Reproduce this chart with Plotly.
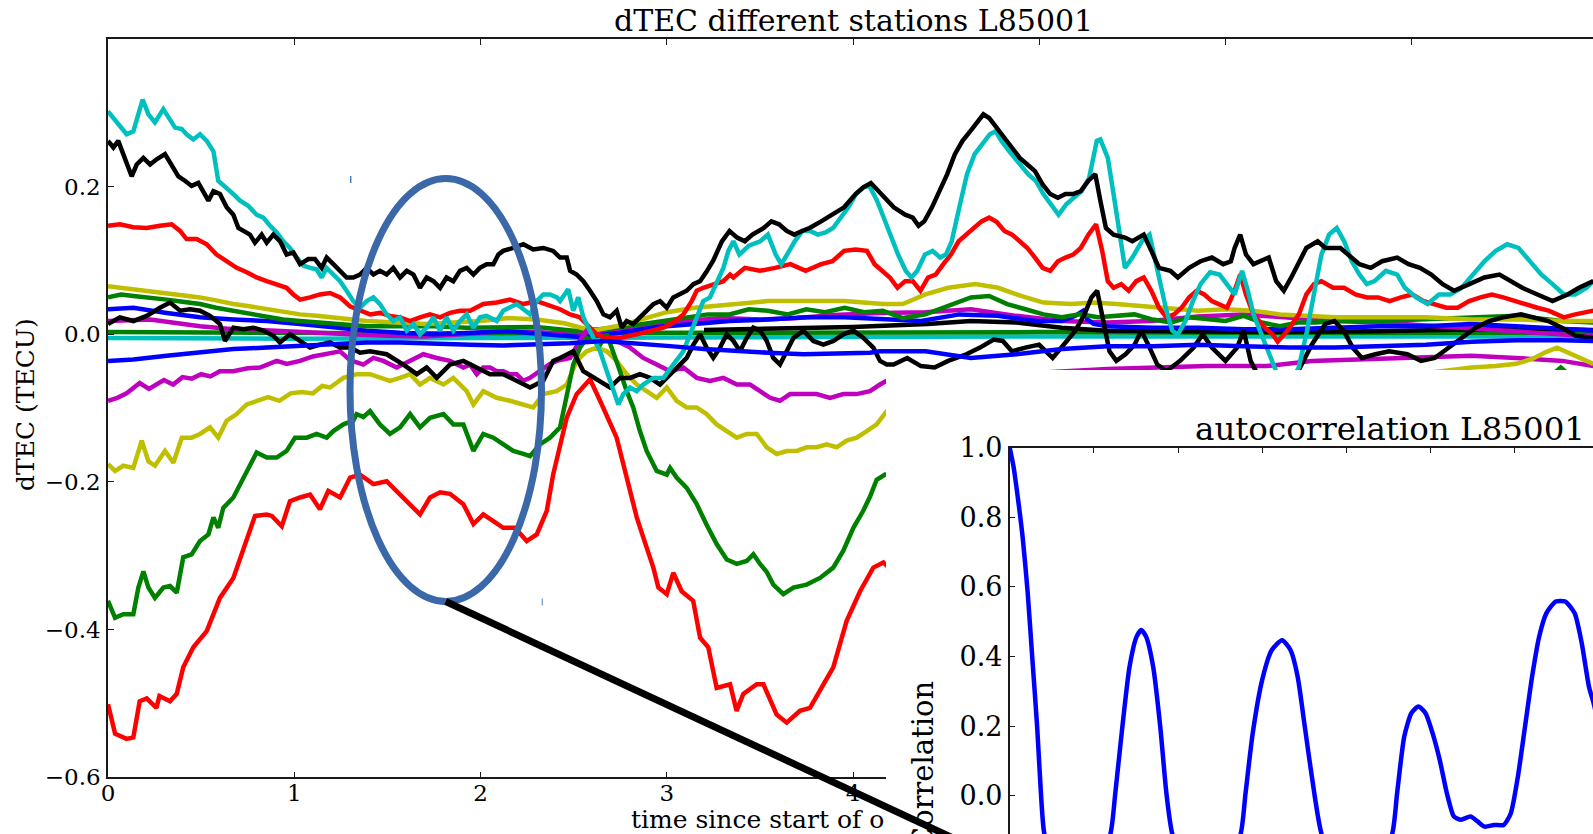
import plotly.graph_objects as go

# ---------------- data ----------------
TITLE_MAIN = "dTEC different stations L85001"
TITLE_INSET = "autocorrelation L85001"
XLABEL_VISIBLE = "time since start of o"
YLABEL_MAIN = "dTEC (TECU)"
YLABEL_INSET = "Correlation"

MAIN_XTICKS = [0, 1, 2, 3, 4, 5, 6, 7]
MAIN_YTICKS = [-0.6, -0.4, -0.2, 0.0, 0.2]
INSET_XTICKS = [0, 1, 2, 3, 4, 5, 6]
INSET_YTICKS = [0.0, 0.2, 0.4, 0.6, 0.8, 1.0]

CYAN_TOP = [
    (0.000, 0.302), (0.038, 0.291), (0.100, 0.271), (0.136, 0.275), (0.186, 0.318), (0.217, 0.298),
    (0.252, 0.287), (0.297, 0.305), (0.333, 0.291), (0.360, 0.280), (0.396, 0.278), (0.422, 0.271),
    (0.458, 0.264), (0.494, 0.271), (0.530, 0.262), (0.566, 0.248), (0.592, 0.208), (0.637, 0.199),
    (0.673, 0.190), (0.709, 0.181), (0.753, 0.174), (0.798, 0.162), (0.834, 0.158), (0.870, 0.147),
    (0.906, 0.138), (0.941, 0.126), (0.977, 0.117), (1.013, 0.104), (1.049, 0.093), (1.085, 0.090),
    (1.120, 0.088), (1.147, 0.077), (1.174, 0.090), (1.210, 0.081), (1.246, 0.072), (1.281, 0.059),
    (1.317, 0.045), (1.353, 0.036), (1.389, 0.045), (1.425, 0.050), (1.460, 0.041), (1.496, 0.027),
    (1.532, 0.018), (1.568, 0.023), (1.604, 0.005), (1.640, 0.014), (1.675, 0.000), (1.711, 0.009),
    (1.747, 0.023), (1.783, 0.005), (1.818, 0.023), (1.854, 0.005), (1.890, 0.018), (1.926, 0.027),
    (1.962, 0.009), (1.997, 0.023), (2.033, 0.025), (2.087, 0.018), (2.122, 0.032), (2.194, 0.041),
    (2.266, 0.027), (2.302, 0.045), (2.337, 0.054), (2.373, 0.054), (2.410, 0.050), (2.427, 0.045),
    (2.471, 0.061), (2.498, 0.032), (2.525, 0.050), (2.552, 0.023), (2.606, -0.005), (2.642, -0.023),
    (2.678, -0.050), (2.713, -0.077), (2.740, -0.095), (2.767, -0.081), (2.803, -0.072), (2.839, -0.077),
    (2.874, -0.068), (2.928, -0.059), (2.982, -0.059), (3.035, -0.041), (3.089, -0.023), (3.125, 0.000),
    (3.161, 0.023), (3.196, 0.045), (3.232, 0.050), (3.277, 0.077), (3.304, 0.090), (3.331, 0.113),
    (3.358, 0.126), (3.390, 0.108), (3.441, 0.120), (3.502, 0.126), (3.543, 0.135), (3.585, 0.108),
    (3.615, 0.095), (3.646, 0.108), (3.687, 0.126), (3.728, 0.140), (3.769, 0.140), (3.811, 0.135),
    (3.852, 0.138), (3.893, 0.144), (3.934, 0.158), (3.975, 0.172), (4.016, 0.190), (4.057, 0.199),
    (4.088, 0.201), (4.129, 0.181), (4.159, 0.162), (4.200, 0.135), (4.242, 0.108), (4.283, 0.086),
    (4.314, 0.077), (4.345, 0.086), (4.386, 0.108), (4.427, 0.113), (4.468, 0.104), (4.499, 0.108),
    (4.530, 0.126), (4.571, 0.172), (4.612, 0.217), (4.653, 0.244), (4.694, 0.257), (4.735, 0.271),
    (4.766, 0.275), (4.797, 0.262), (4.838, 0.248), (4.879, 0.235), (4.940, 0.217), (4.981, 0.208),
    (5.022, 0.190), (5.063, 0.176), (5.104, 0.162), (5.145, 0.176), (5.186, 0.185), (5.227, 0.194),
    (5.268, 0.212), (5.309, 0.262), (5.328, 0.264), (5.368, 0.239), (5.399, 0.190), (5.430, 0.135),
    (5.460, 0.090), (5.500, 0.104), (5.551, 0.126), (5.592, 0.135), (5.622, 0.099), (5.653, 0.063),
    (5.683, 0.032), (5.714, 0.005), (5.744, 0.000), (5.785, 0.018), (5.825, 0.045), (5.866, 0.068),
    (5.917, 0.084), (5.968, 0.081), (6.008, 0.068), (6.049, 0.054), (6.089, 0.086), (6.120, 0.059),
    (6.150, 0.027), (6.191, 0.000), (6.232, -0.027), (6.272, -0.050), (6.330, -0.075), (6.393, -0.045),
    (6.434, 0.000), (6.475, 0.054), (6.515, 0.108), (6.556, 0.135), (6.597, 0.144), (6.637, 0.126),
    (6.678, 0.099), (6.719, 0.081), (6.759, 0.068), (6.800, 0.072), (6.861, 0.086), (6.922, 0.081),
    (6.963, 0.063), (7.024, 0.050), (7.085, 0.041), (7.146, 0.054), (7.207, 0.054), (7.268, 0.063),
    (7.329, 0.081), (7.390, 0.099), (7.451, 0.113), (7.512, 0.122), (7.573, 0.117), (7.634, 0.099),
    (7.695, 0.081), (7.756, 0.068), (7.817, 0.054), (7.878, 0.054), (7.939, 0.063), (7.975, 0.072),
]

BLACK_TOP = [
    (0.000, 0.262), (0.029, 0.253), (0.055, 0.262), (0.091, 0.239), (0.127, 0.214), (0.154, 0.230),
    (0.190, 0.239), (0.226, 0.230), (0.261, 0.237), (0.306, 0.244), (0.342, 0.230), (0.378, 0.214),
    (0.413, 0.208), (0.449, 0.201), (0.485, 0.205), (0.512, 0.194), (0.539, 0.181), (0.566, 0.194),
    (0.601, 0.190), (0.637, 0.172), (0.673, 0.162), (0.700, 0.144), (0.727, 0.140), (0.762, 0.135),
    (0.789, 0.124), (0.825, 0.135), (0.852, 0.124), (0.888, 0.135), (0.924, 0.126), (0.959, 0.108),
    (0.995, 0.111), (1.031, 0.095), (1.076, 0.102), (1.111, 0.102), (1.147, 0.090), (1.174, 0.104),
    (1.210, 0.095), (1.246, 0.086), (1.281, 0.077), (1.317, 0.077), (1.353, 0.081), (1.389, 0.090),
    (1.425, 0.081), (1.460, 0.086), (1.496, 0.081), (1.532, 0.090), (1.568, 0.077), (1.604, 0.086),
    (1.640, 0.081), (1.675, 0.063), (1.711, 0.077), (1.747, 0.072), (1.783, 0.063), (1.818, 0.077),
    (1.854, 0.072), (1.890, 0.086), (1.926, 0.090), (1.962, 0.081), (1.997, 0.090), (2.033, 0.095),
    (2.069, 0.095), (2.096, 0.108), (2.122, 0.113), (2.176, 0.117), (2.230, 0.122), (2.283, 0.115),
    (2.337, 0.117), (2.390, 0.113), (2.427, 0.104), (2.463, 0.104), (2.481, 0.086), (2.516, 0.081),
    (2.552, 0.072), (2.588, 0.059), (2.624, 0.045), (2.660, 0.027), (2.695, 0.023), (2.731, 0.032),
    (2.758, 0.009), (2.785, 0.018), (2.820, 0.014), (2.856, 0.023), (2.892, 0.032), (2.928, 0.041),
    (2.964, 0.045), (3.000, 0.036), (3.035, 0.050), (3.071, 0.054), (3.107, 0.059), (3.143, 0.068),
    (3.179, 0.072), (3.214, 0.085), (3.250, 0.100), (3.296, 0.126), (3.337, 0.140), (3.378, 0.131),
    (3.419, 0.126), (3.460, 0.135), (3.521, 0.144), (3.562, 0.153), (3.603, 0.149), (3.644, 0.140),
    (3.685, 0.135), (3.726, 0.140), (3.767, 0.144), (3.829, 0.153), (3.890, 0.162), (3.952, 0.172),
    (4.014, 0.190), (4.055, 0.199), (4.096, 0.205), (4.137, 0.194), (4.178, 0.181), (4.219, 0.172),
    (4.280, 0.162), (4.321, 0.158), (4.352, 0.147), (4.383, 0.153), (4.424, 0.172), (4.465, 0.194),
    (4.506, 0.217), (4.547, 0.244), (4.588, 0.262), (4.629, 0.275), (4.670, 0.289), (4.700, 0.298),
    (4.731, 0.293), (4.772, 0.280), (4.813, 0.266), (4.854, 0.253), (4.895, 0.239), (4.936, 0.230),
    (4.977, 0.221), (5.018, 0.203), (5.059, 0.190), (5.100, 0.185), (5.141, 0.190), (5.182, 0.190),
    (5.223, 0.194), (5.264, 0.208), (5.301, 0.217), (5.328, 0.181), (5.358, 0.144), (5.399, 0.135),
    (5.460, 0.131), (5.500, 0.126), (5.561, 0.135), (5.602, 0.113), (5.643, 0.090), (5.704, 0.086),
    (5.744, 0.077), (5.805, 0.090), (5.866, 0.099), (5.927, 0.104), (5.988, 0.095), (6.029, 0.099),
    (6.049, 0.117), (6.079, 0.135), (6.110, 0.108), (6.150, 0.095), (6.191, 0.099), (6.232, 0.104),
    (6.272, 0.072), (6.313, 0.059), (6.353, 0.077), (6.394, 0.099), (6.434, 0.117), (6.495, 0.126),
    (6.536, 0.117), (6.577, 0.117), (6.617, 0.117), (6.658, 0.108), (6.719, 0.095), (6.780, 0.090),
    (6.841, 0.099), (6.922, 0.104), (6.983, 0.095), (7.044, 0.090), (7.105, 0.081), (7.166, 0.068),
    (7.227, 0.059), (7.309, 0.068), (7.390, 0.077), (7.471, 0.081), (7.532, 0.072), (7.593, 0.063),
    (7.675, 0.054), (7.756, 0.045), (7.837, 0.054), (7.898, 0.063), (7.975, 0.072),
]

RED_TOP = [
    (0.000, 0.147), (0.064, 0.149), (0.136, 0.145), (0.208, 0.144), (0.279, 0.147), (0.342, 0.149),
    (0.387, 0.140), (0.422, 0.129), (0.476, 0.129), (0.530, 0.122), (0.583, 0.108), (0.637, 0.099),
    (0.691, 0.090), (0.745, 0.084), (0.798, 0.077), (0.852, 0.072), (0.906, 0.068), (0.959, 0.063),
    (0.995, 0.054), (1.031, 0.047), (1.085, 0.050), (1.138, 0.054), (1.192, 0.056), (1.246, 0.050),
    (1.299, 0.038), (1.353, 0.032), (1.407, 0.027), (1.460, 0.029), (1.514, 0.025), (1.568, 0.023),
    (1.622, 0.018), (1.675, 0.023), (1.729, 0.027), (1.783, 0.023), (1.836, 0.029), (1.890, 0.032),
    (1.944, 0.032), (2.015, 0.041), (2.087, 0.043), (2.158, 0.047), (2.230, 0.041), (2.302, 0.045),
    (2.373, 0.038), (2.427, 0.034), (2.481, 0.027), (2.534, 0.023), (2.588, 0.009), (2.624, 0.000),
    (2.660, -0.004), (2.749, -0.005), (2.839, 0.000), (2.910, 0.005), (2.982, 0.009), (3.035, 0.016),
    (3.089, 0.027), (3.134, 0.045), (3.161, 0.059), (3.196, 0.063), (3.250, 0.068), (3.304, 0.072),
    (3.340, 0.081), (3.358, 0.077), (3.419, 0.090), (3.500, 0.086), (3.582, 0.090), (3.664, 0.095),
    (3.746, 0.086), (3.829, 0.095), (3.890, 0.099), (3.952, 0.113), (4.014, 0.115), (4.075, 0.113),
    (4.116, 0.095), (4.157, 0.086), (4.198, 0.077), (4.239, 0.063), (4.280, 0.072), (4.321, 0.072),
    (4.362, 0.059), (4.403, 0.077), (4.444, 0.081), (4.485, 0.095), (4.526, 0.108), (4.567, 0.126),
    (4.608, 0.135), (4.649, 0.144), (4.690, 0.153), (4.731, 0.158), (4.772, 0.152), (4.813, 0.140),
    (4.854, 0.135), (4.895, 0.126), (4.936, 0.117), (4.977, 0.104), (5.018, 0.090), (5.059, 0.086),
    (5.100, 0.099), (5.141, 0.104), (5.182, 0.108), (5.223, 0.117), (5.264, 0.135), (5.305, 0.149),
    (5.338, 0.113), (5.368, 0.072), (5.399, 0.063), (5.440, 0.068), (5.480, 0.059), (5.521, 0.072),
    (5.561, 0.077), (5.602, 0.059), (5.643, 0.036), (5.683, 0.023), (5.724, 0.027), (5.764, 0.036),
    (5.805, 0.050), (5.846, 0.059), (5.886, 0.054), (5.927, 0.045), (5.968, 0.041), (6.008, 0.036),
    (6.049, 0.059), (6.079, 0.081), (6.110, 0.054), (6.150, 0.027), (6.211, 0.009), (6.252, 0.000),
    (6.280, -0.010), (6.333, 0.005), (6.394, 0.027), (6.434, 0.054), (6.475, 0.068), (6.515, 0.072),
    (6.577, 0.063), (6.637, 0.063), (6.698, 0.054), (6.759, 0.050), (6.820, 0.050), (6.881, 0.045),
    (6.942, 0.050), (7.003, 0.054), (7.064, 0.045), (7.125, 0.041), (7.186, 0.036), (7.247, 0.036),
    (7.308, 0.045), (7.369, 0.050), (7.430, 0.054), (7.491, 0.050), (7.552, 0.045), (7.613, 0.041),
    (7.674, 0.036), (7.735, 0.032), (7.816, 0.023), (7.878, 0.027), (7.975, 0.032),
]

RED_BOTTOM = [
    (0.000, -0.501), (0.038, -0.541), (0.100, -0.548), (0.136, -0.546), (0.170, -0.497), (0.208, -0.493),
    (0.260, -0.506), (0.276, -0.490), (0.333, -0.497), (0.369, -0.487), (0.404, -0.451), (0.458, -0.424),
    (0.530, -0.402), (0.601, -0.357), (0.673, -0.330), (0.745, -0.280), (0.789, -0.246), (0.852, -0.244),
    (0.880, -0.246), (0.933, -0.260), (0.977, -0.226), (1.031, -0.221), (1.085, -0.217), (1.138, -0.237),
    (1.183, -0.212), (1.246, -0.221), (1.300, -0.194), (1.353, -0.190), (1.425, -0.203), (1.496, -0.199),
    (1.550, -0.212), (1.604, -0.226), (1.675, -0.244), (1.729, -0.221), (1.783, -0.214), (1.836, -0.216),
    (1.908, -0.230), (1.962, -0.257), (2.015, -0.244), (2.069, -0.253), (2.122, -0.262), (2.185, -0.262),
    (2.248, -0.280), (2.302, -0.271), (2.356, -0.239), (2.390, -0.190), (2.430, -0.150), (2.463, -0.113),
    (2.516, -0.081), (2.560, -0.068), (2.588, -0.061), (2.642, -0.090), (2.695, -0.122), (2.731, -0.140),
    (2.767, -0.176), (2.803, -0.212), (2.839, -0.248), (2.874, -0.275), (2.928, -0.316), (2.955, -0.343),
    (3.000, -0.352), (3.035, -0.323), (3.080, -0.348), (3.142, -0.361), (3.179, -0.411), (3.223, -0.424),
    (3.268, -0.479), (3.340, -0.474), (3.375, -0.510), (3.411, -0.487), (3.483, -0.474), (3.519, -0.474),
    (3.590, -0.515), (3.644, -0.526), (3.715, -0.510), (3.769, -0.506), (3.823, -0.483), (3.894, -0.451),
    (3.966, -0.388), (4.038, -0.348), (4.109, -0.316), (4.163, -0.309), (4.210, -0.320),
]

GREEN_BOTTOM = [
    (0.000, -0.361), (0.038, -0.384), (0.082, -0.379), (0.136, -0.379), (0.163, -0.343), (0.190, -0.321),
    (0.217, -0.343), (0.252, -0.357), (0.297, -0.343), (0.333, -0.341), (0.369, -0.350), (0.404, -0.302),
    (0.449, -0.298), (0.494, -0.280), (0.539, -0.271), (0.566, -0.248), (0.592, -0.262), (0.619, -0.235),
    (0.673, -0.221), (0.709, -0.203), (0.753, -0.181), (0.798, -0.160), (0.852, -0.167), (0.906, -0.167),
    (0.959, -0.158), (1.004, -0.140), (1.067, -0.140), (1.120, -0.135), (1.174, -0.140), (1.210, -0.131),
    (1.264, -0.122), (1.317, -0.117), (1.335, -0.108), (1.371, -0.112), (1.407, -0.104), (1.460, -0.122),
    (1.514, -0.135), (1.568, -0.126), (1.622, -0.108), (1.675, -0.126), (1.729, -0.113), (1.801, -0.108),
    (1.854, -0.122), (1.908, -0.122), (1.962, -0.158), (2.015, -0.135), (2.069, -0.140), (2.122, -0.149),
    (2.176, -0.158), (2.230, -0.162), (2.266, -0.165), (2.319, -0.149), (2.373, -0.140), (2.427, -0.126),
    (2.463, -0.081), (2.498, -0.041), (2.534, -0.018), (2.570, -0.005), (2.606, -0.009), (2.642, -0.014),
    (2.678, 0.000), (2.713, -0.023), (2.749, -0.050), (2.785, -0.077), (2.820, -0.099), (2.856, -0.131),
    (2.892, -0.158), (2.946, -0.185), (3.000, -0.190), (3.018, -0.181), (3.053, -0.194), (3.107, -0.208),
    (3.161, -0.230), (3.214, -0.258), (3.268, -0.284), (3.322, -0.305), (3.376, -0.311), (3.429, -0.307),
    (3.465, -0.298), (3.501, -0.311), (3.537, -0.322), (3.572, -0.339), (3.626, -0.352), (3.680, -0.343),
    (3.751, -0.339), (3.823, -0.330), (3.894, -0.316), (3.948, -0.293), (4.002, -0.262), (4.055, -0.239),
    (4.091, -0.220), (4.127, -0.197), (4.172, -0.190), (4.210, -0.190),
    (7.740, -0.058), (7.800, -0.045), (7.860, -0.058),
]

YELLOW_BOTTOM = [
    (0.000, -0.176), (0.038, -0.185), (0.082, -0.178), (0.136, -0.181), (0.181, -0.144), (0.217, -0.172),
    (0.252, -0.178), (0.306, -0.158), (0.351, -0.174), (0.396, -0.140), (0.449, -0.140), (0.494, -0.135),
    (0.548, -0.126), (0.592, -0.140), (0.637, -0.117), (0.691, -0.108), (0.745, -0.095), (0.798, -0.090),
    (0.860, -0.085), (0.920, -0.090), (0.980, -0.080), (1.040, -0.078), (1.100, -0.080), (1.150, -0.070),
    (1.192, -0.072), (1.264, -0.059), (1.335, -0.054), (1.407, -0.054), (1.460, -0.059), (1.514, -0.063),
    (1.568, -0.059), (1.622, -0.054), (1.675, -0.068), (1.729, -0.059), (1.801, -0.068), (1.854, -0.059),
    (1.926, -0.077), (1.962, -0.095), (2.015, -0.077), (2.087, -0.086), (2.158, -0.090), (2.230, -0.095),
    (2.283, -0.099), (2.337, -0.081), (2.409, -0.077), (2.463, -0.068), (2.516, -0.036), (2.570, -0.023),
    (2.624, -0.018), (2.678, -0.023), (2.731, -0.036), (2.785, -0.054), (2.839, -0.068), (2.892, -0.077),
    (2.946, -0.086), (3.000, -0.072), (3.053, -0.090), (3.107, -0.099), (3.161, -0.099), (3.214, -0.108),
    (3.268, -0.122), (3.322, -0.131), (3.376, -0.140), (3.429, -0.135), (3.483, -0.135), (3.537, -0.153),
    (3.590, -0.162), (3.644, -0.158), (3.698, -0.158), (3.751, -0.153), (3.805, -0.153), (3.859, -0.149),
    (3.912, -0.153), (3.966, -0.144), (4.020, -0.140), (4.074, -0.131), (4.127, -0.122), (4.181, -0.104),
    (4.210, -0.099),
    (7.000, -0.055), (7.196, -0.048), (7.320, -0.045), (7.450, -0.043), (7.560, -0.040), (7.650, -0.033),
    (7.720, -0.024), (7.780, -0.018), (7.840, -0.025), (7.903, -0.032), (7.975, -0.040),
]

MAGENTA_BOTTOM = [
    (0.000, -0.090), (0.050, -0.086), (0.100, -0.080), (0.170, -0.066), (0.220, -0.074), (0.300, -0.062),
    (0.350, -0.068), (0.400, -0.058), (0.450, -0.060), (0.500, -0.054), (0.550, -0.057), (0.600, -0.050),
    (0.673, -0.050), (0.750, -0.046), (0.816, -0.045), (0.870, -0.040), (0.906, -0.036), (0.960, -0.040),
    (1.031, -0.036), (1.100, -0.030), (1.174, -0.027), (1.246, -0.023), (1.300, -0.035), (1.371, -0.041),
    (1.425, -0.032), (1.478, -0.036), (1.550, -0.045), (1.622, -0.036), (1.693, -0.027), (1.765, -0.032),
    (1.836, -0.036), (1.908, -0.045), (1.944, -0.041), (1.980, -0.054), (2.015, -0.045), (2.051, -0.045),
    (2.087, -0.050), (2.122, -0.050), (2.158, -0.054), (2.194, -0.054), (2.230, -0.063), (2.266, -0.059),
    (2.319, -0.050), (2.373, -0.040), (2.409, -0.036), (2.481, -0.032), (2.530, -0.010), (2.570, 0.005),
    (2.620, 0.000), (2.680, -0.005), (2.740, -0.010), (2.803, -0.018), (2.874, -0.032), (2.946, -0.041),
    (3.018, -0.050), (3.089, -0.045), (3.161, -0.059), (3.232, -0.063), (3.304, -0.059), (3.376, -0.068),
    (3.447, -0.068), (3.501, -0.077), (3.555, -0.086), (3.608, -0.090), (3.662, -0.081), (3.734, -0.081),
    (3.805, -0.081), (3.877, -0.086), (3.948, -0.081), (4.020, -0.081), (4.091, -0.077), (4.145, -0.068),
    (4.181, -0.063),
    (5.365, -0.047), (5.610, -0.045), (5.900, -0.043), (6.220, -0.043), (6.463, -0.036), (6.707, -0.034),
    (6.950, -0.032), (7.320, -0.029), (7.560, -0.032), (7.810, -0.036), (7.975, -0.043),
]

BLUE_LOW = [
    (0.000, -0.036), (0.136, -0.034), (0.315, -0.029), (0.494, -0.025), (0.673, -0.020), (0.852, -0.018),
    (1.031, -0.016), (1.210, -0.014), (1.389, -0.011), (1.568, -0.011), (1.750, -0.013), (1.944, -0.014),
    (2.120, -0.015), (2.302, -0.014), (2.480, -0.012), (2.660, -0.009), (2.840, -0.012), (3.018, -0.016),
    (3.200, -0.020), (3.376, -0.023), (3.550, -0.025), (3.734, -0.027), (3.900, -0.026), (4.091, -0.025),
    (4.145, -0.023), (4.390, -0.023), (4.633, -0.032), (4.877, -0.027), (5.122, -0.020), (5.365, -0.016),
    (5.610, -0.016), (5.854, -0.014), (6.099, -0.016), (6.343, -0.018), (6.588, -0.018), (6.832, -0.016),
    (7.076, -0.014), (7.320, -0.010), (7.561, -0.008), (7.806, -0.008), (7.975, -0.009),
]

BLACK_LOW = [
    (0.000, 0.014), (0.064, 0.023), (0.136, 0.018), (0.208, 0.025), (0.279, 0.036), (0.333, 0.043),
    (0.387, 0.032), (0.440, 0.034), (0.494, 0.032), (0.548, 0.025), (0.601, 0.014), (0.628, -0.009),
    (0.673, 0.009), (0.727, 0.007), (0.780, 0.009), (0.834, 0.005), (0.888, -0.002), (0.923, -0.011),
    (0.977, 0.000), (1.031, -0.009), (1.085, -0.018), (1.138, -0.014), (1.192, -0.011), (1.246, -0.018),
    (1.299, -0.018), (1.353, -0.025), (1.407, -0.023), (1.496, -0.027), (1.586, -0.041), (1.658, -0.054),
    (1.711, -0.045), (1.765, -0.059), (1.836, -0.041), (1.908, -0.036), (1.980, -0.045), (2.051, -0.054),
    (2.122, -0.054), (2.194, -0.063), (2.266, -0.072), (2.337, -0.063), (2.390, -0.036), (2.427, -0.032),
    (2.463, -0.027), (2.498, -0.023), (2.552, -0.050), (2.606, -0.059), (2.660, -0.068), (2.695, -0.072),
    (2.749, -0.059), (2.803, -0.059), (2.856, -0.054), (2.910, -0.059), (2.964, -0.068), (3.018, -0.054),
    (3.071, -0.041), (3.107, -0.032), (3.143, -0.014), (3.179, 0.000), (3.214, -0.018), (3.250, -0.032),
    (3.286, -0.018), (3.322, 0.000), (3.358, -0.009), (3.393, -0.023), (3.429, -0.005), (3.465, 0.009),
    (3.501, 0.005), (3.537, -0.009), (3.572, -0.032), (3.608, -0.041), (3.644, -0.023), (3.680, -0.005),
    (3.734, 0.005), (3.787, -0.009), (3.841, -0.014), (3.895, -0.009), (3.948, 0.000), (4.002, 0.005),
    (4.056, -0.005), (4.109, -0.018), (4.145, -0.036), (4.181, -0.041), (4.218, -0.041), (4.291, -0.032),
    (4.365, -0.043), (4.438, -0.045), (4.511, -0.036), (4.609, -0.027), (4.682, -0.018), (4.755, -0.007),
    (4.804, -0.009), (4.853, -0.023), (4.926, -0.018), (4.999, -0.014), (5.072, -0.032), (5.145, -0.009),
    (5.194, 0.005), (5.243, 0.027), (5.280, 0.050), (5.311, 0.059), (5.341, 0.023), (5.377, -0.023),
    (5.414, -0.036), (5.463, -0.027), (5.512, -0.014), (5.548, 0.005), (5.585, -0.014), (5.634, -0.041),
    (5.683, -0.050), (5.756, -0.036), (5.829, -0.018), (5.878, 0.000), (5.927, -0.018), (6.000, -0.036),
    (6.062, -0.018), (6.098, 0.005), (6.135, -0.036), (6.172, -0.054), (6.250, -0.070), (6.350, -0.070),
    (6.463, -0.014), (6.536, 0.014), (6.585, 0.018), (6.634, 0.005), (6.683, -0.018), (6.732, -0.032),
    (6.805, -0.027), (6.879, -0.023), (6.976, -0.027), (7.050, -0.036), (7.123, -0.032), (7.196, -0.018),
    (7.270, -0.005), (7.343, 0.009), (7.416, 0.018), (7.490, 0.023), (7.587, 0.027), (7.660, 0.023),
    (7.733, 0.018), (7.806, 0.009), (7.880, -0.002), (7.975, -0.005),
]

YELLOW_BUNDLE = [
    (0.000, 0.065), (0.136, 0.061), (0.220, 0.058), (0.315, 0.056), (0.400, 0.054), (0.494, 0.050),
    (0.580, 0.046), (0.673, 0.041), (0.760, 0.038), (0.852, 0.034), (0.940, 0.031), (1.031, 0.027),
    (1.120, 0.025), (1.210, 0.023), (1.300, 0.020), (1.389, 0.018), (1.550, 0.016), (1.700, 0.014),
    (1.850, 0.016), (2.000, 0.018), (2.150, 0.022), (2.300, 0.020), (2.450, 0.015), (2.600, 0.005),
    (2.750, 0.012), (2.900, 0.022), (3.000, 0.030), (3.150, 0.036), (3.337, 0.041), (3.543, 0.045),
    (3.749, 0.045), (3.955, 0.045), (4.160, 0.041), (4.267, 0.041), (4.389, 0.054), (4.511, 0.063),
    (4.657, 0.068), (4.779, 0.063), (4.902, 0.052), (5.023, 0.043), (5.170, 0.041), (5.292, 0.043),
    (5.414, 0.041), (5.560, 0.038), (5.707, 0.034), (5.854, 0.032), (6.000, 0.034), (6.147, 0.032),
    (6.294, 0.027), (6.440, 0.025), (6.587, 0.023), (6.831, 0.023), (7.076, 0.023), (7.320, 0.020),
    (7.564, 0.020), (7.808, 0.018), (7.975, 0.018),
]

GREEN_BUNDLE = [
    (0.000, 0.050), (0.070, 0.054), (0.136, 0.052), (0.220, 0.050), (0.315, 0.047), (0.400, 0.044),
    (0.494, 0.041), (0.580, 0.036), (0.673, 0.032), (0.760, 0.027), (0.852, 0.023), (0.940, 0.020),
    (1.031, 0.018), (1.120, 0.016), (1.210, 0.014), (1.300, 0.012), (1.389, 0.011), (1.568, 0.011),
    (1.747, 0.011), (1.926, 0.009), (2.100, 0.009), (2.300, 0.010), (2.500, 0.005), (2.700, 0.008),
    (2.900, 0.015), (3.100, 0.022), (3.220, 0.027), (3.337, 0.027), (3.440, 0.034), (3.543, 0.032),
    (3.650, 0.027), (3.749, 0.034), (3.850, 0.030), (3.955, 0.036), (4.060, 0.030), (4.160, 0.032),
    (4.267, 0.022), (4.389, 0.027), (4.511, 0.038), (4.633, 0.050), (4.731, 0.052), (4.828, 0.041),
    (4.926, 0.034), (5.023, 0.027), (5.121, 0.023), (5.218, 0.027), (5.316, 0.023), (5.414, 0.025),
    (5.511, 0.027), (5.609, 0.020), (5.707, 0.016), (5.804, 0.023), (5.902, 0.020), (6.000, 0.018),
    (6.097, 0.025), (6.195, 0.016), (6.292, 0.011), (6.390, 0.016), (6.487, 0.016), (6.585, 0.018),
    (6.829, 0.018), (7.073, 0.020), (7.317, 0.023), (7.561, 0.025), (7.805, 0.018), (7.975, 0.016),
]

BLUE_BUNDLE = [
    (0.000, 0.034), (0.136, 0.036), (0.315, 0.029), (0.494, 0.023), (0.673, 0.020), (0.852, 0.018),
    (1.031, 0.014), (1.210, 0.009), (1.389, 0.005), (1.568, 0.002), (1.750, 0.000), (1.950, 0.002),
    (2.150, 0.004), (2.350, 0.000), (2.550, -0.004), (2.750, 0.002), (2.950, 0.010), (3.150, 0.014),
    (3.337, 0.018), (3.543, 0.020), (3.749, 0.023), (3.955, 0.023), (4.160, 0.020), (4.366, 0.018),
    (4.571, 0.027), (4.777, 0.025), (4.982, 0.018), (5.121, 0.018), (5.194, 0.025), (5.236, 0.032),
    (5.260, 0.020), (5.292, 0.014), (5.365, 0.011), (5.609, 0.009), (5.854, 0.009), (6.097, 0.007),
    (6.341, 0.007), (6.585, 0.009), (6.829, 0.011), (7.073, 0.011), (7.317, 0.014), (7.561, 0.011),
    (7.805, 0.007), (7.975, 0.005),
]

MAGENTA_BUNDLE = [
    (0.000, 0.018), (0.226, 0.020), (0.494, 0.011), (0.673, 0.007), (0.900, 0.005), (1.100, 0.002),
    (1.300, 0.000), (1.500, -0.002), (1.700, -0.003), (1.900, 0.000), (2.100, 0.004), (2.300, 0.003),
    (2.500, 0.000), (2.700, 0.005), (2.900, 0.012), (3.100, 0.018), (3.300, 0.022), (3.500, 0.020),
    (3.700, 0.022), (3.900, 0.026), (4.145, 0.029), (4.389, 0.030), (4.633, 0.034), (4.877, 0.025),
    (5.121, 0.018), (5.365, 0.016), (5.600, 0.018), (5.850, 0.024), (6.097, 0.027), (6.341, 0.023),
    (6.585, 0.018), (6.829, 0.016), (7.073, 0.012), (7.317, 0.009), (7.561, 0.005), (7.805, 0.000),
    (7.975, -0.003),
]

BLACK_FLAT = [
    (3.200, 0.006), (3.600, 0.008), (4.000, 0.010), (4.400, 0.014), (4.633, 0.018), (4.877, 0.016),
    (5.121, 0.009), (5.365, 0.005), (5.800, 0.004), (6.300, 0.003), (6.800, 0.004), (7.200, 0.006),
    (7.600, 0.008), (7.975, 0.006),
]

CYAN_FLAT = [
    (0.000, -0.005), (1.000, -0.006), (2.000, -0.005), (3.000, -0.004), (4.000, -0.004), (5.000, -0.003),
    (6.000, -0.003), (7.000, -0.003), (7.975, -0.003),
]

GREEN_FLAT = [
    (0.000, 0.003), (1.000, 0.002), (2.000, 0.001), (3.000, 0.002), (4.000, 0.003), (5.000, 0.003),
    (6.000, 0.002), (7.000, 0.002), (7.975, 0.002),
]

AUTOCORR = [
    (0.000, 1.000), (0.045, 0.946), (0.100, 0.850), (0.157, 0.735), (0.214, 0.582), (0.270, 0.390),
    (0.326, 0.198), (0.371, 0.007), (0.410, -0.108), (0.750, -0.420), (1.198, -0.108), (1.254, 0.007),
    (1.338, 0.198), (1.423, 0.370), (1.507, 0.457), (1.563, 0.476), (1.620, 0.457), (1.704, 0.370),
    (1.788, 0.198), (1.861, 0.007), (1.929, -0.108), (2.330, -0.400), (2.745, -0.108), (2.801, 0.007),
    (2.886, 0.179), (2.998, 0.332), (3.111, 0.418), (3.235, 0.447), (3.336, 0.418), (3.420, 0.342),
    (3.505, 0.198), (3.589, 0.054), (3.701, -0.108), (4.120, -0.380), (4.545, -0.108), (4.601, 0.007),
    (4.686, 0.170), (4.770, 0.237), (4.854, 0.256), (4.939, 0.237), (5.023, 0.179), (5.107, 0.103),
    (5.192, 0.007), (5.276, -0.060), (5.360, -0.069), (5.473, -0.060), (5.557, -0.074), (5.642, -0.089),
    (5.754, -0.084), (5.867, -0.084), (5.951, -0.051), (6.035, 0.054), (6.120, 0.198), (6.204, 0.342),
    (6.288, 0.457), (6.373, 0.524), (6.485, 0.558), (6.598, 0.558), (6.710, 0.524), (6.794, 0.438),
    (6.879, 0.314), (6.930, 0.270), (7.000, 0.200),
]

C_B, C_G, C_R, C_C, C_M, C_Y, C_K = "#0000ff", "#008000", "#ff0000", "#00bfbf", "#bf00bf", "#bfbf00", "#000000"

MAIN_SERIES = [
    (CYAN_FLAT, C_C), (GREEN_FLAT, C_G), (BLACK_FLAT, C_K), (MAGENTA_BUNDLE, C_M),
    (BLUE_BUNDLE, C_B), (GREEN_BUNDLE, C_G), (YELLOW_BUNDLE, C_Y),
    (MAGENTA_BOTTOM, C_M), (YELLOW_BOTTOM, C_Y), (GREEN_BOTTOM, C_G), (RED_BOTTOM, C_R),
    (RED_TOP, C_R), (BLACK_LOW, C_K), (CYAN_TOP, C_C), (BLACK_TOP, C_K), (BLUE_LOW, C_B),
]

# ---------------- geometry (pixels of the 1593x834 canvas) ----------------
W, H = 1593, 834
FONT = "DejaVu Serif"


def px(x):
    return x / W


def py(y):
    return 1 - y / H


fig = go.Figure()

for pts, col in MAIN_SERIES:
    fig.add_trace(go.Scatter(
        x=[p[0] for p in pts], y=[p[1] for p in pts], mode="lines",
        line=dict(color=col, width=4.5), xaxis="x", yaxis="y", hoverinfo="skip", showlegend=False))

# white panel of the inset (drawn in its own subplot, above the main traces)
fig.add_trace(go.Scatter(
    x=[0, 1, 1, 0, 0], y=[0, 0, 1, 1, 0], mode="lines", fill="toself", fillcolor="white",
    line=dict(width=0, color="white"), xaxis="x2", yaxis="y2", hoverinfo="skip", showlegend=False))

fig.add_trace(go.Scatter(
    x=[p[0] for p in AUTOCORR], y=[p[1] for p in AUTOCORR], mode="lines",
    line=dict(color=C_B, width=4.5, shape="spline", smoothing=0.6),
    xaxis="x3", yaxis="y3", hoverinfo="skip", showlegend=False))

axis_line = dict(showline=True, linecolor="#1a1a1a", linewidth=1.5, showgrid=False, zeroline=False,
                 ticks="inside", ticklen=6, tickcolor="#1a1a1a", tickwidth=1.2, automargin=False)

main_x_end = (W - 108) / 186.25
inset_x_end = (W - 1009.7) / 84.2
inset_y_low = (795.7 - H) / 348.0

fig.update_layout(
    width=W, height=H, margin=dict(l=0, r=0, t=0, b=0, autoexpand=False),
    paper_bgcolor="white", plot_bgcolor="white", showlegend=False,
    xaxis=dict(domain=[px(108), 1.0], range=[0, main_x_end], anchor="y", mirror="ticks",
               tickvals=MAIN_XTICKS, ticktext=[str(v) for v in MAIN_XTICKS], ticklabelstandoff=-6,
               tickfont=dict(family=FONT, size=23, color="black"), **axis_line),
    yaxis=dict(domain=[py(777.3), py(39)], range=[-0.6, 0.4], anchor="x", ticklabelstandoff=1,
               tickvals=MAIN_YTICKS, ticktext=[("\u2212" if v < 0 else "") + f"{abs(v):.1f}" for v in MAIN_YTICKS],
               tickfont=dict(family=FONT, size=23, color="black"), **axis_line),
    xaxis2=dict(domain=[px(886), 1.0], range=[0, 1], anchor="y2", visible=False, fixedrange=True, automargin=False),
    yaxis2=dict(domain=[0.0, py(370)], range=[0, 1], anchor="x2", visible=False, fixedrange=True, automargin=False),
    xaxis3=dict(domain=[px(1009.7), 1.0], range=[0, inset_x_end], anchor="y3", side="top",
                tickvals=INSET_XTICKS, showticklabels=False, **axis_line),
    yaxis3=dict(domain=[0.0, py(447.7)], range=[inset_y_low, 1.0], anchor="x3", ticklabelstandoff=0,
                tickvals=INSET_YTICKS, ticktext=[f"{v:.1f}" for v in INSET_YTICKS],
                tickfont=dict(family=FONT, size=27, color="black"), **axis_line),
)

ann_font = dict(family=FONT, color="black")
fig.add_annotation(text=TITLE_MAIN, x=px(853), y=py(21), xref="paper", yref="paper",
                   xanchor="center", yanchor="middle", showarrow=False, font=dict(size=30, **ann_font))
fig.add_annotation(text=YLABEL_MAIN, x=px(25), y=py(405), xref="paper", yref="paper", textangle=-90,
                   xanchor="center", yanchor="middle", showarrow=False, font=dict(size=25, **ann_font))
fig.add_annotation(text=XLABEL_VISIBLE, x=px(886), y=py(819), xref="paper", yref="paper",
                   xanchor="right", yanchor="middle", showarrow=False, font=dict(size=25, **ann_font))
fig.add_annotation(text=TITLE_INSET, x=px(1193), y=py(429), xref="paper", yref="paper",
                   xanchor="left", yanchor="middle", showarrow=False, font=dict(size=32.5, **ann_font))
fig.add_annotation(text=YLABEL_INSET, x=px(923), y=py(765), xref="paper", yref="paper", textangle=-90,
                   xanchor="center", yanchor="middle", showarrow=False, font=dict(size=29, **ann_font))

# highlight ellipse, connector line and its small handles
fig.add_shape(type="circle", xref="paper", yref="paper", x0=px(350), x1=px(541.5), y0=py(601.5), y1=py(178.5),
              line=dict(color="#3b68a8", width=7), layer="above")
fig.add_shape(type="line", xref="paper", yref="paper", x0=px(445.7), y0=py(601.5), x1=px(968), y1=py(845),
              line=dict(color="black", width=7), layer="above")
fig.add_shape(type="line", xref="paper", yref="paper", x0=px(350.7), y0=py(176), x1=px(350.7), y1=py(183),
              line=dict(color="#4a7cc4", width=1.5), layer="above")
fig.add_shape(type="line", xref="paper", yref="paper", x0=px(542.3), y0=py(598.5), x1=px(542.3), y1=py(605.5),
              line=dict(color="#7fa5dc", width=1.5), layer="above")

fig.write_html("out.html")
